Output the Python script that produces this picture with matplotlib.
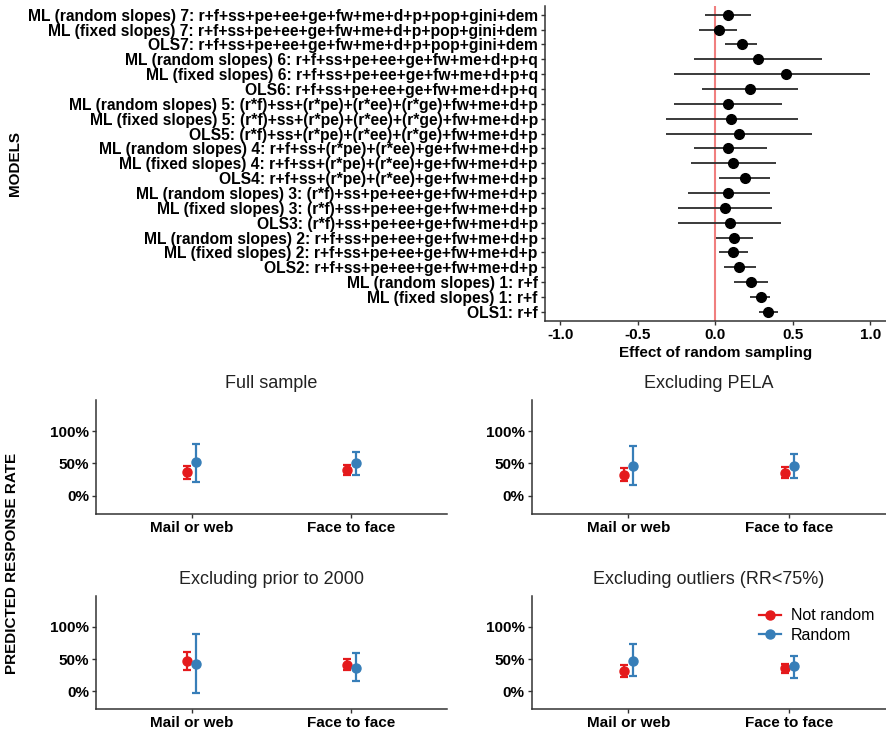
import matplotlib
matplotlib.use("Agg")
import matplotlib.pyplot as plt
from matplotlib.lines import Line2D
import numpy as np

plt.rcParams['font.family'] = ['Liberation Sans', 'DejaVu Sans']

# ---- top panel: effect of random sampling by model ----
models = [
    "ML (random slopes) 7: r+f+ss+pe+ee+ge+fw+me+d+p+pop+gini+dem",
    "ML (fixed slopes) 7: r+f+ss+pe+ee+ge+fw+me+d+p+pop+gini+dem",
    "OLS7: r+f+ss+pe+ee+ge+fw+me+d+p+pop+gini+dem",
    "ML (random slopes) 6: r+f+ss+pe+ee+ge+fw+me+d+p+q",
    "ML (fixed slopes) 6: r+f+ss+pe+ee+ge+fw+me+d+p+q",
    "OLS6: r+f+ss+pe+ee+ge+fw+me+d+p+q",
    "ML (random slopes) 5: (r*f)+ss+(r*pe)+(r*ee)+(r*ge)+fw+me+d+p",
    "ML (fixed slopes) 5: (r*f)+ss+(r*pe)+(r*ee)+(r*ge)+fw+me+d+p",
    "OLS5: (r*f)+ss+(r*pe)+(r*ee)+(r*ge)+fw+me+d+p",
    "ML (random slopes) 4: r+f+ss+(r*pe)+(r*ee)+ge+fw+me+d+p",
    "ML (fixed slopes) 4: r+f+ss+(r*pe)+(r*ee)+ge+fw+me+d+p",
    "OLS4: r+f+ss+(r*pe)+(r*ee)+ge+fw+me+d+p",
    "ML (random slopes) 3: (r*f)+ss+pe+ee+ge+fw+me+d+p",
    "ML (fixed slopes) 3: (r*f)+ss+pe+ee+ge+fw+me+d+p",
    "OLS3: (r*f)+ss+pe+ee+ge+fw+me+d+p",
    "ML (random slopes) 2: r+f+ss+pe+ee+ge+fw+me+d+p",
    "ML (fixed slopes) 2: r+f+ss+pe+ee+ge+fw+me+d+p",
    "OLS2: r+f+ss+pe+ee+ge+fw+me+d+p",
    "ML (random slopes) 1: r+f",
    "ML (fixed slopes) 1: r+f",
    "OLS1: r+f",
]
effect = [0.082, 0.024, 0.172, 0.273, 0.453, 0.221, 0.082, 0.101, 0.152,
          0.082, 0.112, 0.193, 0.082, 0.062, 0.092, 0.122, 0.112, 0.152,
          0.232, 0.292, 0.341]
eff_lo = [-0.069, -0.107, 0.064, -0.137, -0.268, -0.088, -0.268, -0.32, -0.32,
          -0.137, -0.157, 0.024, -0.178, -0.238, -0.238, 0.004, 0.024, 0.054,
          0.122, 0.223, 0.283]
eff_hi = [0.23, 0.139, 0.27, 0.685, 1.0, 0.532, 0.431, 0.532, 0.624,
          0.333, 0.393, 0.352, 0.352, 0.363, 0.423, 0.242, 0.212, 0.262,
          0.341, 0.352, 0.401]
x_ticks = [-1.0, -0.5, 0.0, 0.5, 1.0]

# ---- bottom panels: predicted response rate ----
panel_titles = ["Full sample", "Excluding PELA", "Excluding prior to 2000",
                "Excluding outliers (RR<75%)"]
modes = ["Mail or web", "Face to face"]
groups = ["Not random", "Random"]
# per panel: [mail, face] for each group
nr_mean = [[0.364, 0.40], [0.328, 0.359], [0.472, 0.41], [0.318, 0.359]]
nr_lo = [[0.267, 0.325], [0.231, 0.277], [0.328, 0.323], [0.226, 0.282]]
nr_hi = [[0.462, 0.475], [0.426, 0.441], [0.61, 0.497], [0.41, 0.42]]
r_mean = [[0.518, 0.503], [0.467, 0.467], [0.426, 0.369], [0.477, 0.385]]
r_lo = [[0.22, 0.328], [0.164, 0.282], [-0.026, 0.154], [0.231, 0.21]]
r_hi = [[0.80, 0.682], [0.77, 0.646], [0.887, 0.59], [0.728, 0.554]]
pct_ticks = [0.0, 0.5, 1.0]
pct_labels = ["0%", "50%", "100%"]

RED = "#E41A1C"
BLUE = "#377EB8"
SPINE = "#333333"

W, H = 887, 737
fig = plt.figure(figsize=(W / 100, H / 100), dpi=100)


def px_axes(left, top, right, bottom):
    return fig.add_axes([left / W, 1 - bottom / H, (right - left) / W, (bottom - top) / H])


def classic(ax):
    for s in ["top", "right"]:
        ax.spines[s].set_visible(False)
    for s in ["left", "bottom"]:
        ax.spines[s].set_color(SPINE)
        ax.spines[s].set_linewidth(1.1)
    ax.tick_params(length=3, width=1, color=SPINE, pad=2)


# top forest plot
ax = px_axes(544.7, 5.8, 886, 320.7)
classic(ax)
n = len(models)
ypos = np.arange(n)[::-1]
ax.axvline(0, color="#F07F7F", lw=1.5, zorder=1)
ax.hlines(ypos, eff_lo, eff_hi, color="#2b2b2b", lw=1.3, zorder=2)
ax.plot(effect, ypos, "o", color="black", ms=7, zorder=3)
ax.set_ylim(-0.6, n - 1 + 0.6)
ax.set_xlim(-1.1, 1.1)
ax.set_yticks(ypos)
ax.set_yticklabels(models, fontsize=11.25, fontweight="bold", color="black")
ax.set_xticks(x_ticks)
ax.set_xticklabels([f"{v:.1f}" for v in x_ticks], fontsize=11, fontweight="bold", color="black")
ax.set_xlabel("Effect of random sampling", fontsize=11, fontweight="bold", labelpad=3)
fig.text(15 / W, 1 - 164 / H, "MODELS", rotation=90, ha="center", va="center",
         fontsize=11, fontweight="bold")

# bottom 2x2
boxes = [(96, 400, 447, 514), (531.7, 400, 886, 514),
         (96, 596, 447, 709.3), (531.7, 596, 886, 709.3)]
dodge = 0.028
for i, box in enumerate(boxes):
    ax = px_axes(*box)
    classic(ax)
    xs = np.arange(len(modes)) + 1
    for means, lo, hi, col, off, lab in [(nr_mean[i], nr_lo[i], nr_hi[i], RED, -dodge, groups[0]),
                                         (r_mean[i], r_lo[i], r_hi[i], BLUE, dodge, groups[1])]:
        m = np.array(means)
        err = [m - np.array(lo), np.array(hi) - m]
        ax.errorbar(xs + off, m, yerr=err, fmt="o", color=col, ms=6.5, lw=1.6,
                    capsize=3, capthick=1.6, label=lab)
    ax.set_xlim(0.4, 2.6)
    ax.set_ylim(-0.28, 1.48)
    ax.set_xticks(xs)
    ax.set_xticklabels(modes, fontsize=11, fontweight="bold", color="black")
    ax.set_yticks(pct_ticks)
    ax.set_yticklabels(pct_labels, fontsize=11, fontweight="bold", color="black")
    ax.set_title(panel_titles[i], fontsize=13, color="#222222", pad=9)
    if i == 3:
        handles = [Line2D([0], [0], color=RED, marker="o", ms=6.5, lw=1.6),
                   Line2D([0], [0], color=BLUE, marker="o", ms=6.5, lw=1.6)]
        ax.legend(handles, groups, loc="upper left", bbox_to_anchor=(0.6, 1.02),
                  frameon=False, fontsize=11.5, handlelength=1.4, labelspacing=0.3,
                  handletextpad=0.6)

fig.text(12 / W, 1 - 563 / H, "PREDICTED RESPONSE RATE", rotation=90, ha="center",
         va="center", fontsize=11, fontweight="bold")

fig.savefig("out.png", dpi=100)
